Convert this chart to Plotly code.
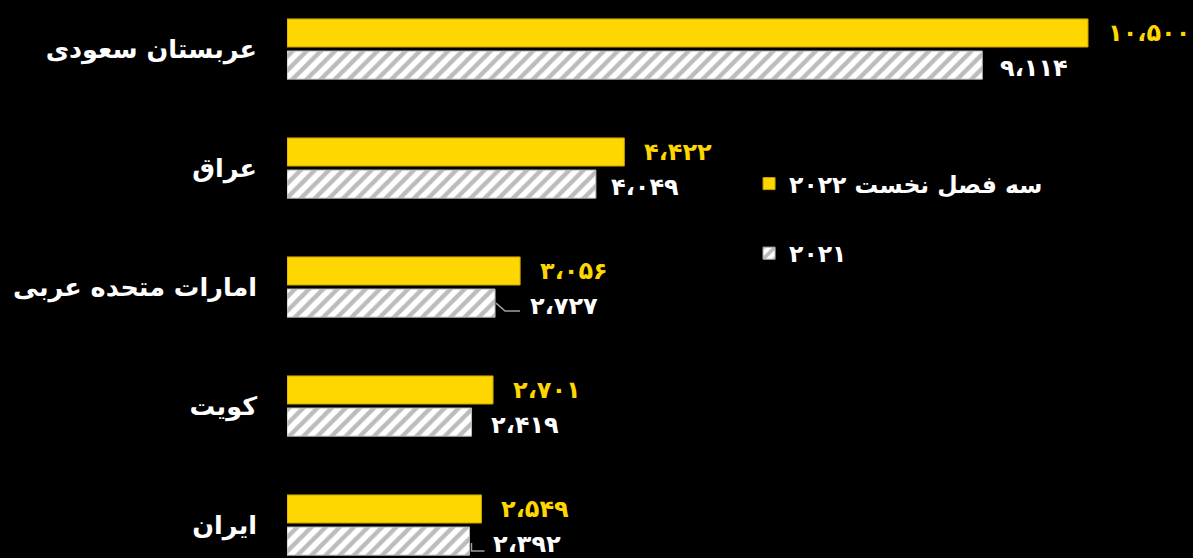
import plotly.graph_objects as go

countries = ["عربستان سعودی", "عراق", "امارات متحده عربی", "کویت", "ایران"]
v2022 = [10500, 4422, 3056, 2701, 2549]
v2021 = [9114, 4049, 2727, 2419, 2392]
name2022 = "سه فصل نخست ۲۰۲۲"
name2021 = "۲۰۲۱"
# label offsets (px) for 2021 labels; leader-line callouts for UAE and Iran
shift2021 = [16, 13, 33, 17, 22]

def fa(n):
    s = f"{n:,}".replace(",", "،")
    return s.translate(str.maketrans("0123456789", "۰۱۲۳۴۵۶۷۸۹"))

FONT = "DejaVu Sans"
YEL = "#FFD700"

fig = go.Figure()
fig.add_trace(go.Bar(
    y=countries, x=v2022, orientation="h", name=name2022,
    marker=dict(color=YEL, line=dict(color="#C8A000", width=1)),
    legendgroup="a",
))
fig.add_trace(go.Bar(
    y=countries, x=v2021, orientation="h", name=name2021,
    marker=dict(color="white", line=dict(color="#BBBBBB", width=1),
                pattern=dict(shape="/", fgcolor="#7A7A7A", bgcolor="white", size=10, solidity=0.45)),
    legendgroup="b",
))

anns = []
for i, c in enumerate(countries):
    anns.append(dict(x=v2022[i], y=i - 0.135, xref="x", yref="y", text="<b>" + fa(v2022[i]) + "</b>",
                     showarrow=False, xanchor="left", xshift=18,
                     font=dict(family=FONT, size=24, color=YEL)))
    anns.append(dict(x=v2021[i], y=i + 0.135, xref="x", yref="y", text="<b>" + fa(v2021[i]) + "</b>",
                     showarrow=False, xanchor="left", xshift=shift2021[i], yshift=-3,
                     font=dict(family=FONT, size=24, color="white")))

shapes = []
line_style = dict(color="#A0A0A0", width=1.5)
# UAE leader
i = 2
shapes.append(dict(type="path", xref="x", yref="y", xsizemode="pixel", ysizemode="pixel",
                   xanchor=v2021[i], yanchor=i + 0.135,
                   path="M 1 0 L 10 -8 L 25 -8", line=line_style))
# Iran leader
i = 4
shapes.append(dict(type="path", xref="x", yref="y", xsizemode="pixel", ysizemode="pixel",
                   xanchor=v2021[i], yanchor=i + 0.135,
                   path="M 2 -2 L 2 -10 L 15 -10", line=line_style))

fig.update_layout(
    width=1193, height=558,
    margin=dict(l=287, r=0, t=0, b=0),
    paper_bgcolor="black", plot_bgcolor="black",
    barmode="group", bargap=0.46, bargroupgap=0.125,
    font=dict(family=FONT, color="white"),
    xaxis=dict(range=[0, 11876], visible=False),
    yaxis=dict(type="category", categoryorder="array", categoryarray=countries,
               range=[4.277, -0.412], showgrid=False, zeroline=False, showline=False,
               ticks="", ticklabelstandoff=29, automargin=False,
               tickfont=dict(family=FONT, size=25.5, color="white", weight="bold")),
    legend=dict(x=0.51, y=0.71, xanchor="left", yanchor="top", bgcolor="rgba(0,0,0,0)",
                font=dict(family=FONT, size=23.5, color="white", weight="bold"), tracegroupgap=36,
                traceorder="grouped"),
    annotations=anns,
    shapes=shapes,
)
fig.write_html("out.html", config={"displayModeBar": False},
               post_script="document.body.style.margin='0';document.body.style.background='black';")
